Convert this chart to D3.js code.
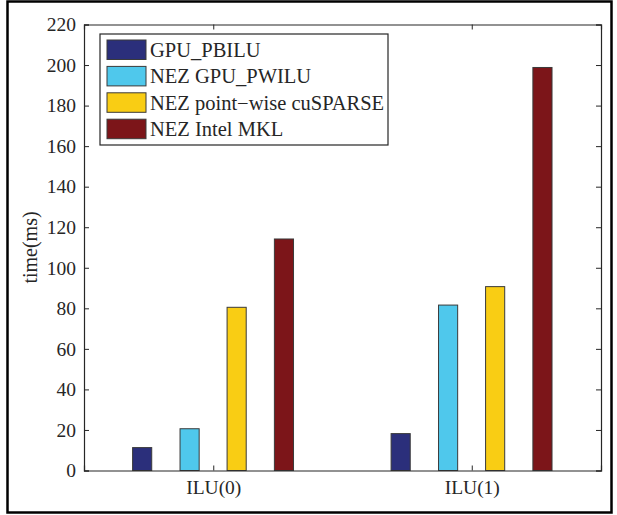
<!DOCTYPE html>
<html>
<head>
<script src="https://d3js.org/d3.v7.min.js"></script>
<style>
  body { margin: 0; background: #fff; }
  text { font-family: "Liberation Serif", "Times New Roman", serif; fill: #262626; }
</style>
</head>
<body>
<div id="chart"></div>
<script>
// data
var categories = ["ILU(0)", "ILU(1)"];
var seriesNames = ["GPU_PBILU", "NEZ GPU_PWILU", "NEZ point\u2212wise cuSPARSE", "NEZ Intel MKL"];
var seriesColors = ["#2b2f7b", "#4fc8ec", "#f9cd14", "#7c1519"];
var gpuPbilu = [11.3, 18.2];
var nezPwilu = [20.6, 81.6];
var nezCusparse = [80.5, 90.7];
var nezMkl = [114.2, 198.8];
var yTicks = [0, 20, 40, 60, 80, 100, 120, 140, 160, 180, 200, 220];

var series = [gpuPbilu, nezPwilu, nezCusparse, nezMkl];

var W = 617, H = 515;
var margin = {top: 24.5, right: 16, bottom: 44.5, left: 84};
var width = W - margin.left - margin.right,
    height = H - margin.top - margin.bottom;

var svg = d3.select("#chart").append("svg")
    .attr("width", W)
    .attr("height", H);

// outer frame
svg.append("rect")
    .attr("x", 7.5).attr("y", 1.5)
    .attr("width", 604).attr("height", 511)
    .attr("fill", "none")
    .attr("stroke", "#000")
    .attr("stroke-width", 2.5);

var g = svg.append("g")
    .attr("transform", "translate(" + margin.left + "," + margin.top + ")");

// x as continuous like matlab: categories at 1 and 2, limits 0.5..2.5
var x = d3.scaleLinear().domain([0.5, 2.5]).range([0, width]);
var y = d3.scaleLinear().domain([0, 220]).range([height, 0]);

var offsets = [-0.275, -0.0915, 0.0905, 0.2735];
var barW = 0.074;

// bars
series.forEach(function(vals, si) {
  g.selectAll(".bar" + si)
    .data(vals)
    .enter()
    .append("rect")
      .attr("x", function(d, i) { return x(i + 1 + offsets[si] - barW / 2); })
      .attr("y", function(d) { return y(d); })
      .attr("width", x(barW) - x(0))
      .attr("height", function(d) { return height - y(d); })
      .attr("fill", seriesColors[si])
      .attr("stroke", "#3a3a3a")
      .attr("stroke-width", 1);
});

// axes
var axisColor = "#262626";
var tickLen = 5;

var yAxis = g.append("g")
    .call(d3.axisLeft(y).tickValues(yTicks).tickSize(-tickLen).tickPadding(8));
var yAxisR = g.append("g")
    .attr("transform", "translate(" + width + ",0)")
    .call(d3.axisRight(y).tickValues(yTicks).tickSize(-tickLen).tickFormat(""));
var xAxis = g.append("g")
    .attr("transform", "translate(0," + height + ")")
    .call(d3.axisBottom(x).tickValues([1, 2]).tickSize(-tickLen).tickPadding(10)
      .tickFormat(function(d) { return categories[d - 1]; }));
var xAxisT = g.append("g")
    .call(d3.axisTop(x).tickValues([1, 2]).tickSize(-tickLen).tickFormat(""));

[yAxis, yAxisR, xAxis, xAxisT].forEach(function(a) {
  a.select(".domain").attr("stroke", axisColor).attr("stroke-width", 1.2);
  a.selectAll(".tick line").attr("stroke", axisColor).attr("stroke-width", 1);
  a.selectAll("text")
    .style("font-family", "'Liberation Serif', 'Times New Roman', serif")
    .style("font-size", "19.5px")
    .attr("fill", axisColor);
});

// y label
g.append("text")
    .attr("transform", "translate(" + (32 - margin.left) + "," + (height / 2) + ") rotate(-90)")
    .attr("text-anchor", "middle")
    .attr("dominant-baseline", "middle")
    .style("font-size", "20px")
    .text("time(ms)");

// legend
var legend = svg.append("g").attr("transform", "translate(100,34)");
legend.append("rect")
    .attr("x", 0).attr("y", 0)
    .attr("width", 288).attr("height", 111)
    .attr("fill", "#fff")
    .attr("stroke", axisColor)
    .attr("stroke-width", 1.2);

var rows = legend.selectAll(".row")
    .data(seriesNames)
    .enter()
    .append("g")
      .attr("transform", function(d, i) { return "translate(7," + (6 + i * 26.4) + ")"; });

rows.append("rect")
    .attr("width", 39).attr("height", 19.5)
    .attr("fill", function(d, i) { return seriesColors[i]; })
    .attr("stroke", "#3a3a3a")
    .attr("stroke-width", 1);

rows.append("text")
    .attr("x", 43)
    .attr("y", 17)
    .style("font-size", "20.5px")
    .text(function(d) { return d; });
</script>
</body>
</html>
